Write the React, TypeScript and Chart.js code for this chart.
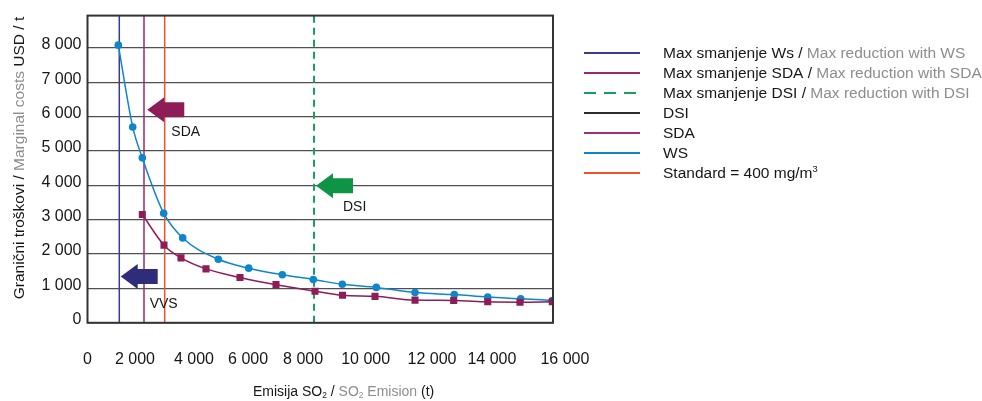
import React, { useEffect, useRef } from "react";
import { Chart, registerables } from "chart.js";
Chart.register(...registerables);

// ---------- data ----------
const wsX = [1059, 1554, 1884, 2619, 3272, 4496, 5541, 6696, 7761, 8758, 9927, 11257, 12608, 13756, 14890, 15976];
const wsY = [8080, 5700, 4800, 3190, 2470, 1850, 1590, 1400, 1260, 1120, 1030, 880, 820, 750, 700, 650];

const sdaX = [1884, 2629, 3214, 4073, 5242, 6479, 7820, 8765, 9882, 11257, 12587, 13756, 14866, 15976];
const sdaY = [3150, 2260, 1890, 1570, 1320, 1110, 920, 800, 770, 660, 650, 610, 600, 610];

const maxWsX = 1093;
const maxSdaX = 1942;
const maxDsiX = 7785;
const standardX = 2653;

const xMin = 0;
const xMax = 16000;
const yMin = 0;
const yMax = 8940;

const yTickValues = [0, 1000, 2000, 3000, 4000, 5000, 6000, 7000, 8000];
const yTickLabels = ["0", "1 000", "2 000", "3 000", "4 000", "5 000", "6 000", "7 000", "8 000"];
const xTickValues = [0, 1630, 3660, 5520, 7410, 9560, 11840, 13900, 16410];
const xTickLabels = ["0", "2 000", "4 000", "6 000", "8 000", "10 000", "12 000", "14 000", "16 000"];

const legendLocal = [
  "Max smanjenje Ws / ",
  "Max smanjenje SDA / ",
  "Max smanjenje DSI / ",
  "DSI",
  "SDA",
  "WS",
  "Standard = 400 mg/m",
];
const legendEnglish = ["Max reduction with WS", "Max reduction with SDA", "Max reduction with DSI", "", "", "", ""];
const legendSup = ["", "", "", "", "", "", "3"];

const arrowLabels = ["SDA", "VVS", "DSI"];
const arrowX = [2055, 1141, 7854];
const arrowY = [6200, 1344, 3990];

// ---------- styles ----------
const FONT = "'Liberation Sans', Arial, Helvetica, sans-serif";
const BLACK = "#161615";
const GRAY = "#8d8d8d";
const C_NAVY = "#3b3b8e";
const C_MAXSDA = "#9a2a6a";
const C_GREEN = "#17a05a";
const C_DSI = "#2a2a2a";
const C_SDA = "#8e1c57";
const C_SDA_LEG = "#a0307a";
const C_WS = "#0d86cc";
const C_RED = "#f0502c";
const arrowColors = ["#8e1c57", "#2f2c7a", "#0f9446"];
const arrowLabelDx = [24, 29, 27];
const arrowLabelDy = [21, 26, 20];

type Seg = { text: string; color: string; script?: "sub" | "sup" };

function drawRich(ctx: CanvasRenderingContext2D, segs: Seg[], x: number, baseline: number, size: number, align: "left" | "center") {
  const widths = segs.map((s) => {
    const fs = s.script ? size * 0.6 : size;
    ctx.font = `${fs}px ${FONT}`;
    return ctx.measureText(s.text).width;
  });
  const total = widths.reduce((a, b) => a + b, 0);
  let cx = align === "center" ? x - total / 2 : x;
  ctx.textBaseline = "alphabetic";
  ctx.textAlign = "left";
  segs.forEach((s, i) => {
    const fs = s.script ? size * 0.6 : size;
    ctx.font = `${fs}px ${FONT}`;
    ctx.fillStyle = s.color;
    let dy = 0;
    if (s.script === "sub") dy = size * 0.12;
    if (s.script === "sup") dy = -size * 0.42;
    ctx.fillText(s.text, cx, baseline + dy);
    cx += widths[i];
  });
}

const decorPlugin = {
  id: "decor",
  afterDraw(chart: any) {
    const ctx: CanvasRenderingContext2D = chart.ctx;
    const area = chart.chartArea;
    const xs = chart.scales.x;
    const ys = chart.scales.y;
    ctx.save();

    // arrows
    arrowLabels.forEach((lab, i) => {
      const tx = xs.getPixelForValue(arrowX[i]);
      const ty = ys.getPixelForValue(arrowY[i]);
      const hl = 17, hh = 12.5, bh = 7.5, L = 37;
      ctx.beginPath();
      ctx.moveTo(tx, ty);
      ctx.lineTo(tx + hl, ty - hh);
      ctx.lineTo(tx + hl, ty - bh);
      ctx.lineTo(tx + L, ty - bh);
      ctx.lineTo(tx + L, ty + bh);
      ctx.lineTo(tx + hl, ty + bh);
      ctx.lineTo(tx + hl, ty + hh);
      ctx.closePath();
      ctx.fillStyle = arrowColors[i];
      ctx.fill();
      ctx.font = `14px ${FONT}`;
      ctx.fillStyle = BLACK;
      ctx.textBaseline = "alphabetic";
      ctx.textAlign = "left";
      ctx.fillText(lab, tx + arrowLabelDx[i], ty + arrowLabelDy[i] + 14 * 0.36);
    });

    // frame
    ctx.strokeStyle = "#333";
    ctx.lineWidth = 2;
    ctx.strokeRect(area.left, area.top, area.right - area.left, area.bottom - area.top);

    // legend
    const size = 15.5;
    chart.data.datasets.forEach((ds: any, i: number) => {
      const cy = 52.5 + i * 20;
      ctx.save();
      ctx.strokeStyle = ds.legendColor || ds.borderColor;
      ctx.lineWidth = 2;
      ctx.setLineDash(ds.borderDash ? [12, 8] : []);
      ctx.beginPath();
      ctx.moveTo(584, cy + 0.5);
      ctx.lineTo(640, cy + 0.5);
      ctx.stroke();
      ctx.restore();
      const segs: Seg[] = [{ text: legendLocal[i], color: BLACK }];
      if (legendEnglish[i]) segs.push({ text: legendEnglish[i], color: GRAY });
      if (legendSup[i]) segs.push({ text: legendSup[i], color: BLACK, script: "sup" });
      drawRich(ctx, segs, 663, cy + size * 0.36, size, "left");
    });

    // x title
    const xt = 14;
    drawRich(
      ctx,
      [
        { text: "Emisija SO", color: BLACK },
        { text: "2", color: BLACK, script: "sub" },
        { text: " / ", color: BLACK },
        { text: "SO", color: GRAY },
        { text: "2", color: GRAY, script: "sub" },
        { text: " Emision", color: GRAY },
        { text: " (t)", color: BLACK },
      ],
      253,
      391 + xt * 0.36,
      xt,
      "left"
    );

    // y title
    const yt = 15.5;
    ctx.save();
    ctx.translate(18, 158);
    ctx.rotate(-Math.PI / 2);
    drawRich(
      ctx,
      [
        { text: "Granični troškovi / ", color: BLACK },
        { text: "Marginal costs", color: GRAY },
        { text: " USD / t", color: BLACK },
      ],
      0,
      yt * 0.36,
      yt,
      "center"
    );
    ctx.restore();

    ctx.restore();
  },
};

function vline(label: string, x: number, color: string, dash?: number[], width = 1.5) {
  return {
    label,
    data: [
      { x, y: yMin },
      { x, y: yMax },
    ],
    borderColor: color,
    borderWidth: width,
    borderDash: dash,
    pointRadius: 0,
    order: 2,
  };
}

export default function App() {
  const ref = useRef<HTMLCanvasElement>(null);
  useEffect(() => {
    if (!ref.current) return;
    const datasets: any[] = [
      vline("maxWs", maxWsX, C_NAVY),
      vline("maxSda", maxSdaX, C_MAXSDA),
      vline("maxDsi", maxDsiX, C_GREEN, [7, 5], 2),
      { label: "DSI", data: [], borderColor: C_DSI, order: 2 },
      {
        label: "SDA",
        data: sdaX.map((x, i) => ({ x, y: sdaY[i] })),
        borderColor: C_SDA,
        legendColor: C_SDA_LEG,
        backgroundColor: C_SDA,
        borderWidth: 1.5,
        pointStyle: "rect",
        pointRadius: 5,
        pointBorderWidth: 0,
        cubicInterpolationMode: "monotone",
        order: 0,
      },
      {
        label: "WS",
        data: wsX.map((x, i) => ({ x, y: wsY[i] })),
        borderColor: C_WS,
        backgroundColor: C_WS,
        borderWidth: 1.5,
        pointStyle: "circle",
        pointRadius: 3.8,
        pointBorderWidth: 0,
        cubicInterpolationMode: "monotone",
        order: 0,
      },
      vline("standard", standardX, C_RED),
    ];
    const chart = new Chart(ref.current, {
      type: "line",
      data: { datasets },
      options: {
        animation: false,
        responsive: false,
        maintainAspectRatio: false,
        devicePixelRatio: 1,
        events: [],
        layout: { padding: { left: 0, top: 11.5, right: 429, bottom: 0 } },
        plugins: { legend: { display: false }, tooltip: { enabled: false }, title: { display: false } },
        scales: {
          x: {
            type: "linear",
            min: xMin,
            max: xMax,
            afterBuildTicks: (s: any) => {
              s.ticks = xTickValues.map((v) => ({ value: v }));
            },
            afterFit: (s: any) => {
              s.height = 401 - 322.8;
            },
            grid: { display: false },
            border: { display: false },
            ticks: {
              autoSkip: false,
              maxRotation: 0,
              padding: 19,
              color: BLACK,
              font: { family: FONT, size: 16 },
              callback: (_v: any, i: number) => xTickLabels[i],
            },
          },
          y: {
            type: "linear",
            min: yMin,
            max: yMax,
            afterBuildTicks: (s: any) => {
              s.ticks = yTickValues.map((v) => ({ value: v }));
            },
            afterFit: (s: any) => {
              s.width = 87.5;
            },
            grid: { color: "#505050", lineWidth: 1.2, drawTicks: false },
            border: { display: false },
            ticks: {
              padding: 6,
              labelOffset: -3,
              color: BLACK,
              font: { family: FONT, size: 16 },
              callback: (_v: any, i: number) => yTickLabels[i],
            },
          },
        },
      },
      plugins: [decorPlugin],
    } as any);
    return () => chart.destroy();
  }, []);
  return (
    <div style={{ position: "fixed", left: 0, top: 0, width: 982, height: 401, background: "#fff" }}>
      <canvas ref={ref} width={982} height={401} style={{ display: "block", width: 982, height: 401 }} />
    </div>
  );
}
